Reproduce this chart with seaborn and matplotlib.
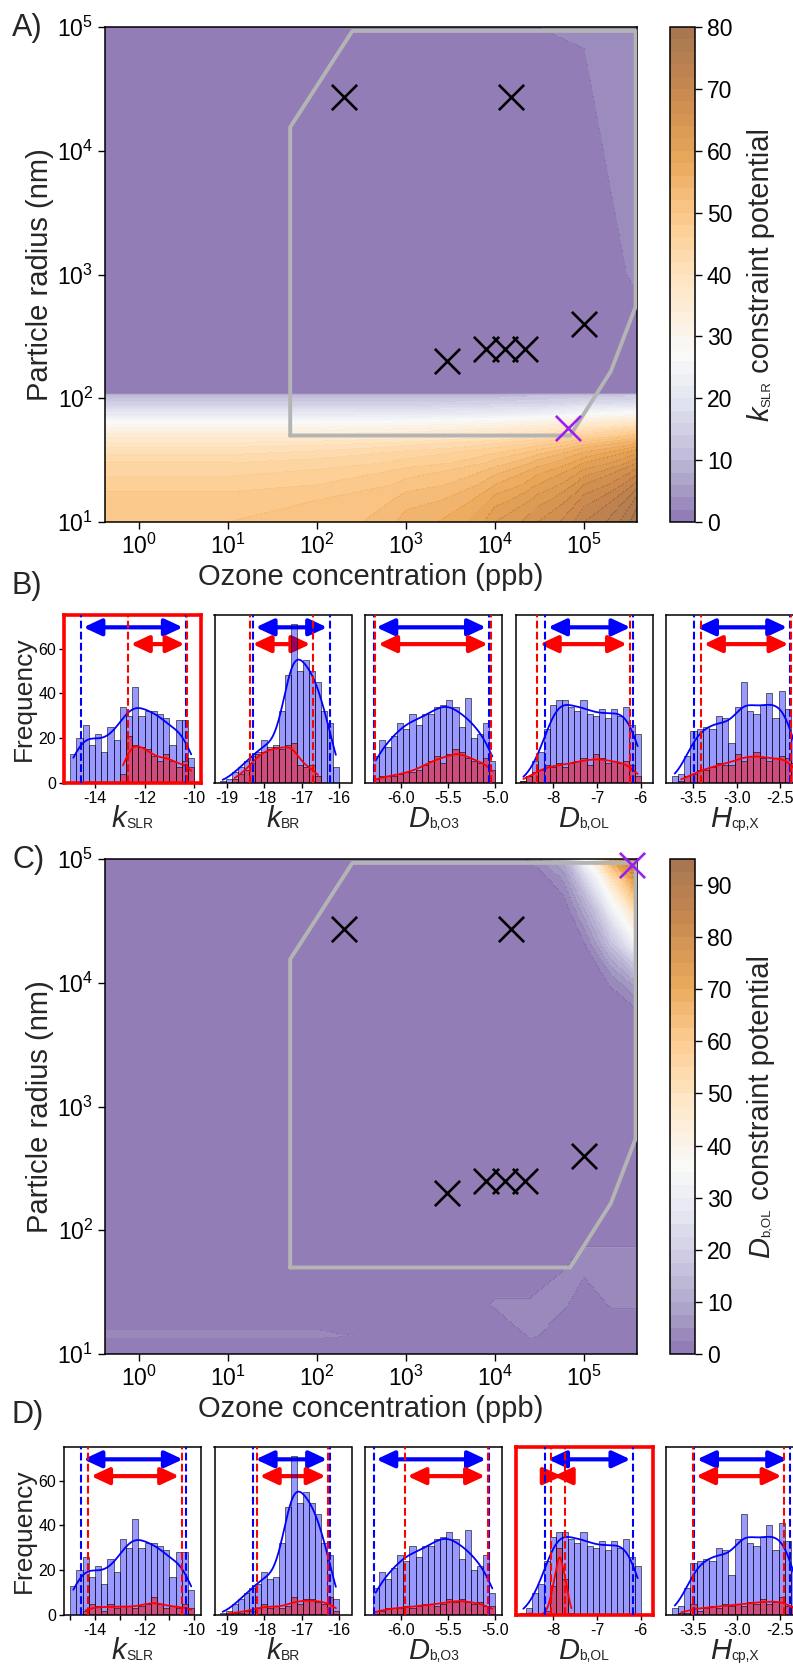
import numpy as np
import pandas as pd
import matplotlib
matplotlib.use("Agg")
import matplotlib.pyplot as plt
from matplotlib.colors import ListedColormap, TwoSlopeNorm
from matplotlib.ticker import NullLocator, FormatStrFormatter, MultipleLocator
import seaborn as sns

sns.set_style("ticks")
plt.rcParams["font.family"] = ["Liberation Sans", "DejaVu Sans"]
plt.rcParams["mathtext.fontset"] = "custom"
plt.rcParams["mathtext.rm"] = "Liberation Sans"
plt.rcParams["mathtext.it"] = "Liberation Sans:italic"
plt.rcParams["mathtext.bf"] = "Liberation Sans:bold"
plt.rcParams["axes.unicode_minus"] = False
plt.rcParams["axes.edgecolor"] = "black"
plt.rcParams["xtick.color"] = "black"
plt.rcParams["ytick.color"] = "black"

# ---------------- constraint-potential maps ----------------
ozone_a = [0.4, 10, 100, 1e3, 1e4, 3e4, 1e5, 4e5]
radius_a = [10, 15, 20, 30, 40, 50, 60, 75, 90, 105, 110, 1e3, 1e5]
ksl_potential = [
    [50, 50, 51, 55, 62, 66, 72, 80],
    [49, 49, 50, 53, 59, 63, 69, 77],
    [47, 47, 48, 51, 56, 60, 66, 73],
    [44, 44, 45, 47, 51, 55, 60, 66],
    [40, 40, 41, 43, 46, 49, 54, 59],
    [35, 35, 35, 36, 39, 41, 45, 50],
    [29, 29, 29, 30, 32, 34, 37, 41],
    [21, 21, 21, 21, 22, 23, 26, 28],
    [15, 15, 15, 15, 16, 16, 18, 19],
    [11, 11, 11, 11, 11, 12, 13, 14],
    [0, 0, 0, 0, 0, 0, 0, 0],
    [0, 0, 0, 0, 0, 0, 0, 3],
    [0, 0, 0, 0, 0, 2, 3, 3],
]

ozone_c = [0.4, 100, 1e3, 1e4, 2.5e4, 6e4, 1e5, 2e5, 4.4e5]
radius_c = [10, 14, 25, 45, 70, 90, 5e3, 1e4, 2e4, 4e4, 7e4, 1e5]
dol_potential = [
    [0, 0, 0, 0, 0, 0, 0, 0, 0],
    [3, 3, 0, 0, 3, 0, 0, 0, 0],
    [0, 0, 0, 3, 3, 3, 0, 3, 3],
    [0, 0, 0, 0, 0, 3, 3, 3, 3],
    [0, 0, 0, 0, 0, 0, 3, 3, 3],
    [0, 0, 0, 0, 0, 0, 0, 0, 0],
    [0, 0, 0, 0, 0, 0, 0, 0, 1],
    [0, 0, 0, 0, 0, 0, 0, 3, 12],
    [0, 0, 0, 0, 0, 0, 2, 16, 38],
    [0, 0, 0, 0, 0, 1, 10, 32, 62],
    [0, 0, 0, 0, 0, 6, 22, 50, 85],
    [0, 0, 0, 0, 3, 12, 35, 70, 97],
]

# experimental conditions (ozone ppb, radius nm)
exp_ozone = [200, 1.5e4, 2900, 8000, 1.3e4, 2.2e4, 1.0e5]
exp_radius = [2.7e4, 2.7e4, 200, 250, 250, 250, 400]
best_a = ([6.6e4], [58])
best_c = ([3.45e5], [8.9e4])

# boundary of the sampled domain
domain_ozone = [50, 50, 250, 3.8e5, 3.8e5, 2.0e5, 7.0e4, 50]
domain_radius = [50, 1.55e4, 9.3e4, 9.3e4, 550, 165, 50, 50]

# ---------------- parameter histograms ----------------
param_symbol = ["k", "k", "D", "D", "H"]
param_subscript = ["SLR", "BR", "b,O3", "b,OL", "cp,X"]
bin_lo = [-15.0, -19.2, -6.3, -8.75, -3.75]
bin_hi = [-10.0, -16.0, -5.0, -6.0, -2.3]

prior_counts = [
    [13, 20, 26, 17, 22, 14, 25, 19, 34, 30, 43, 30, 32, 32, 31, 29, 17, 28, 28, 11],
    [1, 2, 5, 7, 10, 12, 14, 19, 16, 17, 32, 48, 71, 50, 55, 50, 45, 32, 27, 7],
    [12, 19, 16, 21, 27, 24, 31, 26, 31, 31, 34, 35, 37, 34, 25, 38, 20, 22, 27, 10],
    [1, 3, 10, 14, 24, 35, 37, 37, 34, 32, 37, 31, 30, 33, 29, 33, 30, 34, 26, 22],
    [3, 4, 12, 23, 24, 25, 24, 30, 29, 18, 34, 45, 32, 31, 35, 40, 29, 41, 33, 20],
]
post_counts_ksl = [
    [0, 0, 0, 0, 0, 0, 0, 0, 4, 21, 17, 16, 15, 12, 10, 13, 10, 7, 10, 7],
    [0, 0, 2, 4, 6, 9, 13, 14, 15, 16, 15, 17, 18, 8, 7, 8, 3, 0, 0, 0],
    [2, 3, 3, 3, 4, 5, 5, 6, 8, 10, 12, 9, 13, 15, 14, 11, 10, 9, 11, 6],
    [1, 3, 5, 6, 8, 7, 9, 7, 9, 10, 11, 8, 13, 11, 9, 10, 9, 10, 8, 3],
    [0, 1, 3, 4, 6, 6, 7, 9, 8, 8, 13, 10, 12, 14, 11, 10, 11, 12, 11, 9],
]
post_counts_dol = [
    [0, 0, 2, 5, 4, 2, 5, 3, 4, 4, 3, 4, 5, 8, 5, 3, 4, 3, 5, 3],
    [0, 1, 1, 1, 2, 2, 3, 5, 3, 4, 3, 4, 8, 5, 7, 7, 6, 5, 8, 2],
    [2, 2, 3, 3, 3, 4, 3, 4, 5, 5, 4, 5, 7, 6, 7, 6, 5, 6, 4, 4],
    [0, 1, 0, 0, 2, 13, 30, 16, 1, 0, 0, 0, 0, 0, 0, 0, 0, 0, 0, 0],
    [0, 1, 1, 5, 2, 3, 4, 3, 5, 4, 5, 4, 6, 5, 7, 5, 6, 8, 4, 4],
]
prior_lo = [-14.58, -18.31, -6.29, -8.18, -3.49]
prior_hi = [-10.35, -16.24, -5.07, -6.17, -2.385]
post_ksl_lo = [-12.67, -18.39, -6.27, -8.37, -3.41]
post_ksl_hi = [-10.28, -16.69, -5.05, -6.25, -2.37]
post_dol_lo = [-14.27, -18.20, -5.96, -8.05, -3.50]
post_dol_hi = [-10.50, -16.28, -5.08, -7.74, -2.45]

hist_xlim = [(-15.25, -9.73), (-19.34, -15.66), (-6.38, -4.93),
             (-8.86, -5.73), (-3.815, -2.235)]
hist_xticks = [[-14, -12, -10], [-19, -18, -17, -16], [-6.0, -5.5, -5.0],
               [-8, -7, -6], [-3.5, -3.0, -2.5]]

# ---------------- figure layout (pixels) ----------------
W, H = 793, 1666
fig = plt.figure(figsize=(W / 100, H / 100), dpi=100)
renderer = fig.canvas.get_renderer()


def px_axes(left, top, width, height):
    return fig.add_axes([left / W, 1 - (top + height) / H, width / W, height / H])


def compose_label(xc, yc, pieces, rotation=0):
    """Place a label made of pieces (text, size, style, shift) centred at (xc, yc)
    in top-origin pixel coordinates; small subscripts sit on the shared baseline."""
    items = []
    for s, size, style, shift in pieces:
        t = fig.text(0, 0, s, fontsize=size, style=style, rotation=rotation,
                     rotation_mode="anchor", ha="left", va="baseline")
        bb = t.get_window_extent(renderer)
        items.append((t, bb.height if rotation else bb.width, shift))
    total = sum(w for _, w, _ in items)
    pos = -total / 2
    for t, w, shift in items:
        if rotation == 0:
            t.set_position(((xc + pos) / W, 1 - (yc + shift) / H))
        else:
            t.set_position(((xc + shift) / W, 1 - (yc - pos) / H))
        pos += w


def potential_cmap(lo=0.13):
    base = plt.get_cmap("PuOr_r")
    cols = np.vstack([base(np.linspace(lo, 0.5, 128)), base(np.linspace(0.5, 1.0, 128))])
    return ListedColormap(cols)


def draw_map(top, ozone, radius, table, vcenter, vmax, levels, cticks, csym, csub, best):
    ax = px_axes(105, top, 532, 495)
    cax = px_axes(670, top, 25, 495)
    X, Y = np.meshgrid(ozone, radius)
    Z = np.array(table, dtype=float)
    norm = TwoSlopeNorm(vmin=0, vcenter=vcenter, vmax=vmax)
    cs = ax.contourf(X, Y, Z, levels=levels, cmap=potential_cmap(), norm=norm, alpha=0.7)
    ax.contour(X, Y, Z, levels=levels[1:], colors="white", linewidths=0.35, alpha=0.35)
    ax.set_xscale("log")
    ax.set_yscale("log")
    ax.set_xlim(0.415, 3.94e5)
    ax.set_ylim(10, 1e5)
    ax.xaxis.set_minor_locator(NullLocator())
    ax.yaxis.set_minor_locator(NullLocator())
    ax.plot(domain_ozone, domain_radius, color="#b4b4b4", lw=2.8, zorder=3,
            solid_joinstyle="round")
    pts = pd.DataFrame({"ozone": exp_ozone, "radius": exp_radius})
    sns.scatterplot(data=pts, x="ozone", y="radius", marker="x", s=330, color="black",
                    linewidth=1.9, ax=ax, zorder=5, legend=False)
    best_pt = pd.DataFrame({"ozone": best[0], "radius": best[1]})
    sns.scatterplot(data=best_pt, x="ozone", y="radius", marker="x", s=330,
                    color="#9b1ff2", linewidth=1.9, ax=ax, zorder=6, legend=False,
                    clip_on=False)
    ax.tick_params(labelsize=16.5, length=5, width=1)
    ax.set_xlabel("Ozone concentration (ppb)", fontsize=21, labelpad=3)
    ax.set_ylabel("Particle radius (nm)", fontsize=21, labelpad=2)
    for sp in ax.spines.values():
        sp.set_linewidth(1.1)
    cb = fig.colorbar(cs, cax=cax, ticks=cticks)
    cb.ax.tick_params(labelsize=16.5, length=5, width=1)
    cb.outline.set_linewidth(1.1)
    cb.ax.yaxis.set_minor_locator(NullLocator())
    compose_label(769, top + 247.5,
                  [(csym, 21, "italic", 0), (csub, 9.5, "normal", 1),
                   (" constraint potential", 21, "normal", 0)], rotation=90)
    return ax


def draw_hist_row(top, post_counts, post_lo, post_hi, framed, minor_ksl):
    lefts = [64, 214.5, 365, 515.5, 666]
    for i in range(5):
        ax = px_axes(lefts[i], top, 137, 168)
        edges = np.linspace(bin_lo[i], bin_hi[i], 21)
        centers = 0.5 * (edges[:-1] + edges[1:])
        bin_list = [float(e) for e in edges]
        # credible intervals, drawn behind the bars
        style = "<|-|>,head_length=0.9,head_width=0.42"
        ax.annotate("", xy=(prior_hi[i], 69.5), xytext=(prior_lo[i], 69.5),
                    arrowprops=dict(arrowstyle=style, color="blue", lw=3, shrinkA=2,
                                    shrinkB=2, mutation_scale=12), zorder=0.5)
        ax.annotate("", xy=(post_hi[i], 62), xytext=(post_lo[i], 62),
                    arrowprops=dict(arrowstyle=style, color="red", lw=3, shrinkA=2,
                                    shrinkB=2, mutation_scale=12), zorder=0.5)
        prior = pd.DataFrame({"value": centers, "count": np.asarray(prior_counts[i], float)})
        sns.histplot(data=prior, x="value", weights="count", bins=bin_list, color="blue",
                     alpha=0.4, edgecolor="black", linewidth=0.4, kde=True,
                     kde_kws={"cut": 0, "bw_adjust": 0.55}, line_kws={"lw": 1.3}, ax=ax)
        post = pd.DataFrame({"value": centers, "count": np.asarray(post_counts[i], float)})
        post = post[post["count"] > 0]
        sns.histplot(data=post, x="value", weights="count", bins=bin_list, color="red",
                     alpha=0.5, edgecolor="black", linewidth=0.4, kde=True,
                     kde_kws={"cut": 0, "bw_adjust": 0.55}, line_kws={"lw": 1.3}, ax=ax)
        for x in (prior_lo[i], prior_hi[i]):
            ax.axvline(x, color="blue", ls="--", lw=1.5, zorder=3)
        for x in (post_lo[i], post_hi[i]):
            ax.axvline(x, color="red", ls="--", lw=1.5, zorder=3)
        ax.set_xlim(*hist_xlim[i])
        ax.set_ylim(0, 75)
        ax.set_xticks(hist_xticks[i])
        if i == 0 and minor_ksl:
            ax.xaxis.set_minor_locator(MultipleLocator(1))
            ax.tick_params(axis="x", which="minor", length=3.5, width=1)
        if i in (2, 4):
            ax.xaxis.set_major_formatter(FormatStrFormatter("%.1f"))
        ax.tick_params(labelsize=11.5, length=3.5, width=1, pad=2)
        ax.set_xlabel("")
        compose_label(lefts[i] + 68.5, top + 168 + 44,
                      [(param_symbol[i], 21, "italic", 0),
                       (param_subscript[i], 10, "normal", 1)])
        if i == 0:
            ax.set_yticks([0, 20, 40, 60])
            ax.set_ylabel("Frequency", fontsize=19, labelpad=2)
        else:
            ax.set_yticks([])
            ax.set_ylabel("")
        for sp in ax.spines.values():
            sp.set_linewidth(1.1)
        if i == framed:
            for sp in ax.spines.values():
                sp.set_color("red")
                sp.set_linewidth(2.6)


draw_map(27, ozone_a, radius_a, ksl_potential, 27, 80, np.linspace(0, 80, 41),
         list(range(0, 81, 10)), "k", "SLR", best_a)
draw_hist_row(615, post_counts_ksl, post_ksl_lo, post_ksl_hi, framed=0, minor_ksl=False)
draw_map(859, ozone_c, radius_c, dol_potential, 36, 95, np.linspace(0, 95, 39),
         list(range(0, 91, 10)), "D", "b,OL", best_c)
draw_hist_row(1447, post_counts_dol, post_dol_lo, post_dol_hi, framed=3, minor_ksl=True)

for label, yc in (("A)", 28), ("B)", 586), ("C)", 860), ("D)", 1415)):
    fig.text(12 / W, 1 - yc / H, label, fontsize=22, va="center", ha="left")

fig.savefig("out.png", dpi=100)
